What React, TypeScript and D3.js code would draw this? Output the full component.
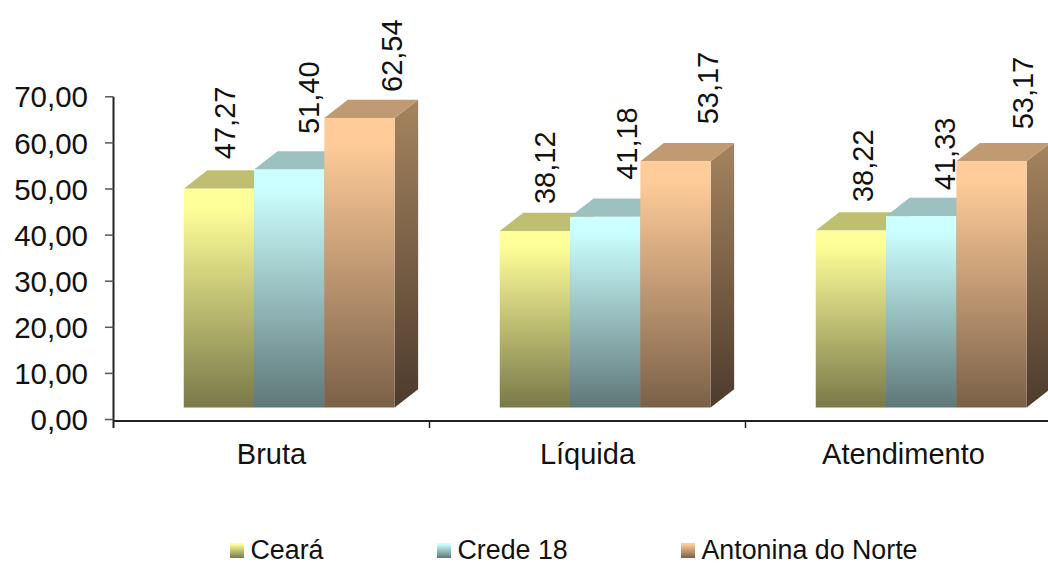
import React from 'react';
import { scaleBand, scaleLinear, range, format } from 'd3';

const categories = ['Bruta', 'Líquida', 'Atendimento'];
const seriesNames = ['Ceará', 'Crede 18', 'Antonina do Norte'];
const ceara = [47.27, 38.12, 38.22];
const crede = [51.4, 41.18, 41.33];
const antonina = [62.54, 53.17, 53.17];
const seriesValues = [ceara, crede, antonina];
const tickValues = [0, 10, 20, 30, 40, 50, 60, 70];

const width = 1048;
const height = 563;
const fontFamily = '"Liberation Sans", Arial, sans-serif';
const textColor = '#111';
const depthX = 23.5;
const depthY = 18.3;
const floorShift = 17.7;

const faceColors = [
    { light: '#ffff99', dark: '#79794a', top: '#bfbf72', sideLight: '#a5a572', sideDark: '#4d4d2e' },
    { light: '#ccffff', dark: '#5f7778', top: '#9dc0c0', sideLight: '#84a5a5', sideDark: '#3d4d4d' },
    { light: '#ffcc99', dark: '#7a6048', top: '#c09a72', sideLight: '#a5845f', sideDark: '#4d3b2d' },
];
// the labels were moved by hand in the original, per series then per category
const labelDx = [[6, 10, 12], [19, 21.5, 23.5], [32, 32, 31]];
const labelGap = [[29.5, 27, 28.5], [35.5, 37, 26], [26, 37, 32]];
const legendSwatchX = [230, 437, 681];

const commaFormat = (v: number) => format('.2f')(v).replace('.', ',');

const xScale = scaleBand<string>().domain(categories).range([113.5, 1061.5]);
const seriesScale = scaleBand<number>()
    .domain(range(seriesNames.length))
    .range([0, xScale.bandwidth()])
    .paddingInner(0)
    .paddingOuter(0.7475);

// axis scale, the 3d bars sit on a floor a bit above the axis
const yScale = scaleLinear().domain([0, 70]).range([419.5, 96.8]);
const barScale = scaleLinear().domain([0, 70]).range([407.5, 83.4]);

const barLeft = (cat: string, s: number) => xScale(cat)! + seriesScale(s)! + floorShift;

const Gradients = () => (
    <defs>
        {faceColors.map((c, i) => (
            <React.Fragment key={i}>
                <linearGradient id={`front${i}`} x1="0" y1="0" x2="0" y2="1">
                    <stop offset="0%" stopColor={c.light} />
                    <stop offset="8%" stopColor={c.light} />
                    <stop offset="100%" stopColor={c.dark} />
                </linearGradient>
                <linearGradient id={`side${i}`} x1="0" y1="0" x2="0" y2="1">
                    <stop offset="0%" stopColor={c.sideLight} />
                    <stop offset="100%" stopColor={c.sideDark} />
                </linearGradient>
            </React.Fragment>
        ))}
    </defs>
);

const Bars = () => (
    <g>
        {categories.map((cat, c) => (
            <g key={cat}>
                {seriesValues.map((values, s) => {
                    const x0 = barLeft(cat, s);
                    const x1 = x0 + seriesScale.bandwidth();
                    const top = barScale(values[c]);
                    const bottom = barScale(0);
                    return (
                        <g key={s}>
                            <path
                                d={`M${x1},${top}L${x1 + depthX},${top - depthY}L${x1 + depthX},${bottom - depthY}L${x1},${bottom}Z`}
                                fill={`url(#side${s})`}
                            />
                            <path
                                d={`M${x0},${top}L${x0 + depthX},${top - depthY}L${x1 + depthX},${top - depthY}L${x1},${top}Z`}
                                fill={faceColors[s].top}
                            />
                            <rect x={x0} y={top} width={x1 - x0} height={bottom - top} fill={`url(#front${s})`} />
                        </g>
                    );
                })}
            </g>
        ))}
    </g>
);

const Labels = () => (
    <g fontSize={29} fill={textColor}>
        {categories.map((cat, c) =>
            seriesValues.map((values, s) => {
                const cx = barLeft(cat, s) + seriesScale.bandwidth() / 2 + labelDx[s][c];
                return (
                    <text
                        key={`${cat}${s}`}
                        transform={`translate(${cx},${barScale(values[c]) - labelGap[s][c]}) rotate(-90)`}
                        dy=".36em"
                    >
                        {commaFormat(values[c])}
                    </text>
                );
            })
        )}
    </g>
);

const AxisLeft = () => (
    <g>
        <line x1={113.5} x2={113.5} y1={yScale(70)} y2={428} stroke="#222" strokeWidth={2} />
        {tickValues.map(t => (
            <g key={t} transform={`translate(0,${yScale(t)})`}>
                <line x1={105} x2={113.5} stroke="#555" strokeWidth={1.5} />
                <text x={88} dy=".36em" textAnchor="end" fontSize={29.5} fill={textColor}>
                    {commaFormat(t)}
                </text>
            </g>
        ))}
    </g>
);

const AxisBottom = () => (
    <g>
        <line x1={113.5} x2={width} y1={421} y2={421} stroke="#222" strokeWidth={2} />
        {categories.map(cat => (
            <g key={cat} transform={`translate(${xScale(cat)},0)`}>
                <line x1={xScale.bandwidth()} x2={xScale.bandwidth()} y1={421} y2={428} stroke="#222" strokeWidth={1.5} />
                <text x={xScale.bandwidth() / 2} y={464} textAnchor="middle" fontSize={29} fill={textColor}>
                    {cat}
                </text>
            </g>
        ))}
    </g>
);

const Legend = () => (
    <g>
        {seriesNames.map((name, s) => (
            <g key={name}>
                <rect x={legendSwatchX[s]} y={543} width={14} height={15} fill={`url(#front${s})`} />
                <text x={legendSwatchX[s] + 20.5} y={559} fontSize={26.8} fill={textColor}>
                    {name}
                </text>
            </g>
        ))}
    </g>
);

export default function App() {
    return (
        <svg
            width={width}
            height={height}
            style={{ position: 'absolute', left: 0, top: 0, display: 'block' }}
            fontFamily={fontFamily}
        >
            <rect width={width} height={height} fill="#fff" />
            <Gradients />
            <Bars />
            <AxisLeft />
            <AxisBottom />
            <Labels />
            <Legend />
        </svg>
    );
}
